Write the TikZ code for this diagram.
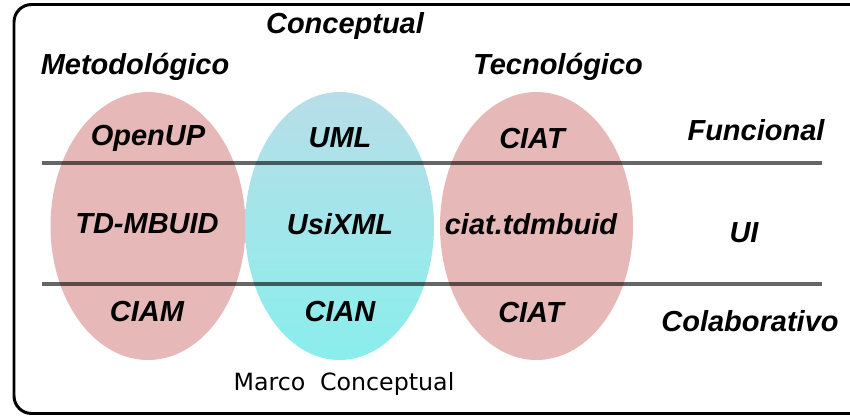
\documentclass[tikz,border=0pt]{standalone}
\usepackage{fontspec}
\setmainfont{Liberation Sans}
\newfontfamily\marcofont{DejaVu Sans}
\definecolor{rosa}{RGB}{230,184,183}
\definecolor{cyantop}{RGB}{184,222,232}
\definecolor{cyanbot}{RGB}{138,238,236}
\begin{document}
\begin{tikzpicture}[x=0.02cm,y=-0.02cm,
  lbl/.style={font=\fontsize{16.5}{18}\selectfont\bfseries\itshape, inner sep=0pt, anchor=center},
  sep/.style={line width=2pt, draw=black, draw opacity=0.6}]
\useasboundingbox (0,0) rectangle (850,416);
\begin{scope}
\clip (0,0) rectangle (850,416);
\draw[line width=1.7pt, rounded corners=10pt] (14,4.5) rectangle (880,413.5);
\end{scope}
% ellipses
\fill[rosa] (148,226) ellipse [x radius=97.5, y radius=134];
\shade[top color=cyantop, bottom color=cyanbot] (339.5,226) ellipse [x radius=94.5, y radius=134];
\fill[rosa] (536.5,226) ellipse [x radius=96.5, y radius=134];
% separators
\coordinate (l1a) at (42,163); \coordinate (l1b) at (822,163);
\coordinate (l2a) at (42,284); \coordinate (l2b) at (822,284);
\draw[sep] (l1a) -- (l1b);
\draw[sep] (l2a) -- (l2b);
% headers
\node[lbl] (conc) at (345,26) {Conceptual};
\node[lbl] (meto) at (135,67) {Metodológico};
\node[lbl] (tecn) at (558,67) {Tecnológico};
\node[lbl] (func) at (756,130) {Funcional};
\node[lbl] (ui) at (744,233) {UI};
\node[lbl] (cola) at (750,321) {Colaborativo};
% cells
\node[lbl] (openup) at (148,138) {OpenUP};
\node[lbl] (uml) at (340,138) {UML};
\node[lbl] (ciat1) at (532,139) {CIAT};
\node[lbl] (tdm) at (147,224) {TD-MBUID};
\node[lbl] (usi) at (340,224) {UsiXML};
\node[lbl] (ctd) at (531,224) {ciat.tdmbuid};
\node[lbl] (ciam) at (147,312) {CIAM};
\node[lbl] (cian) at (340,312) {CIAN};
\node[lbl] (ciat2) at (531,313) {CIAT};
\node[font=\marcofont\fontsize{13.5}{15}\selectfont, inner sep=0pt] (marco) at (344,384) {Marco\hspace{0.3em} Conceptual};
\end{tikzpicture}
\end{document}
